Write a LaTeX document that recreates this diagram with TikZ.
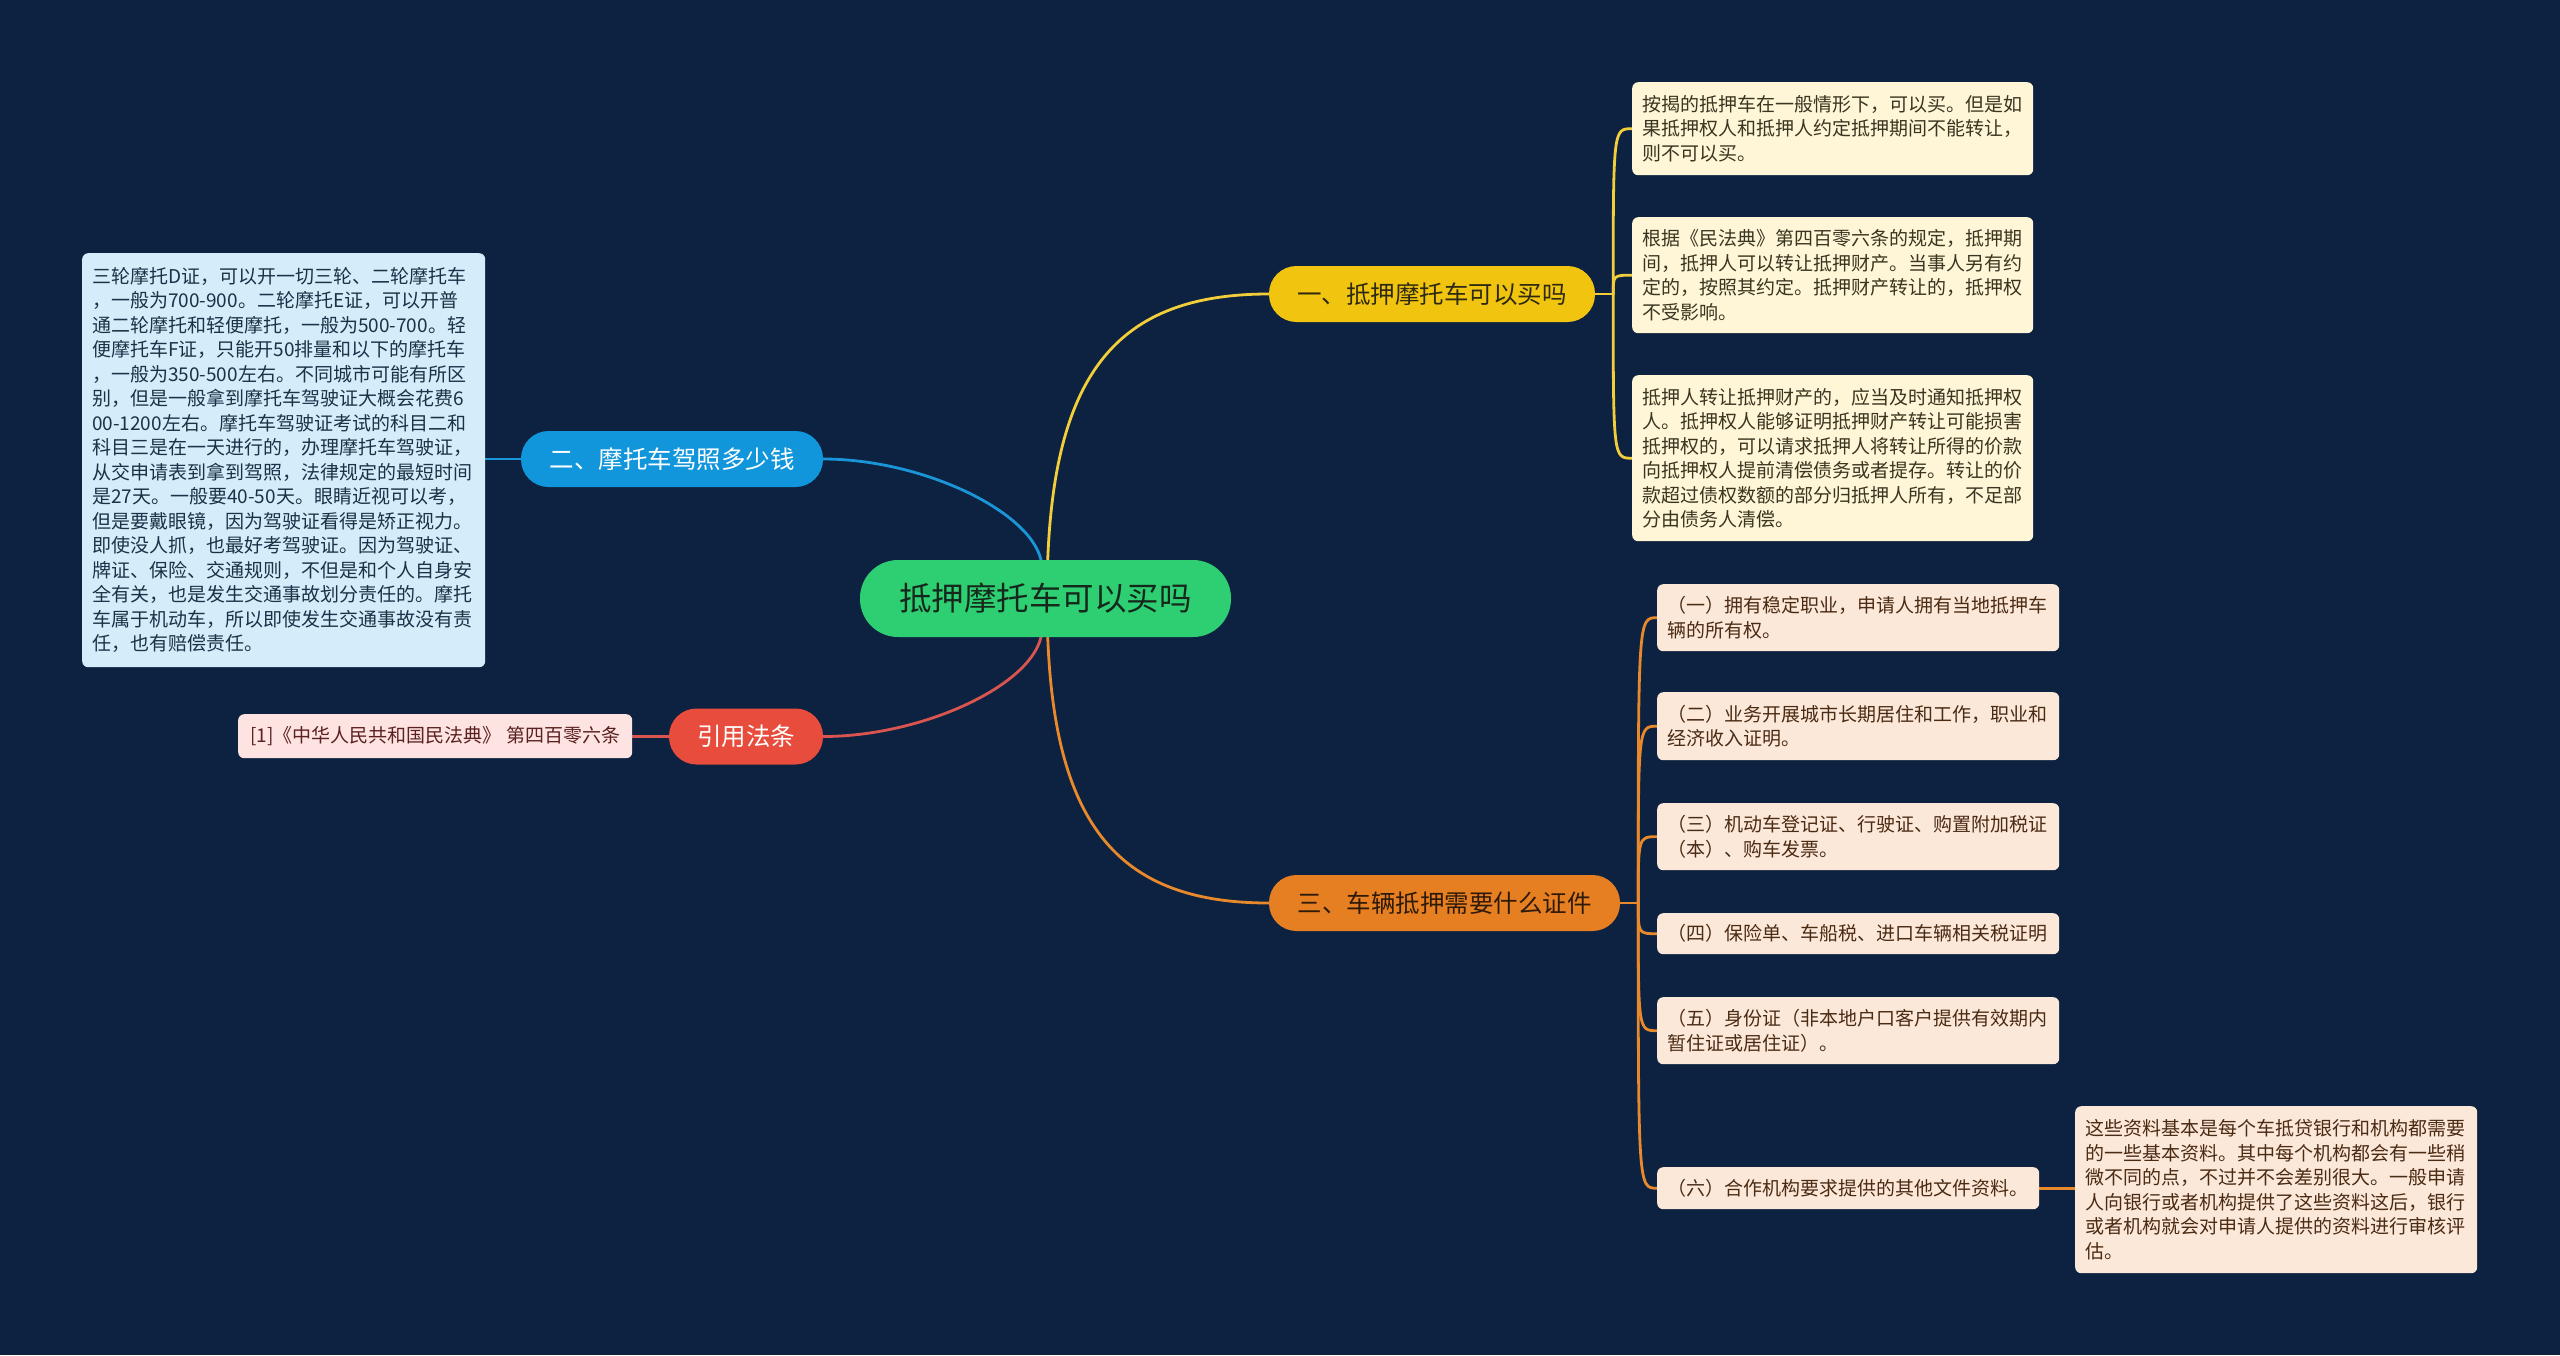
\documentclass[tikz,border=0pt]{standalone}
\usepackage{fontspec}
\setmainfont{Noto Sans CJK SC}
\usetikzlibrary{calc}
\pgfdeclarelayer{bg}
\pgfsetlayers{bg,main}
\definecolor{bgc}{HTML}{0D2240}
\definecolor{rootc}{HTML}{2ECF72}
\definecolor{roottxt}{HTML}{16281C}
\definecolor{yelc}{HTML}{F1C40F}
\definecolor{yeltxt}{HTML}{2E2A12}
\definecolor{yline}{HTML}{F2CE3A}
\definecolor{orac}{HTML}{E67E22}
\definecolor{oratxt}{HTML}{2E1A08}
\definecolor{oline}{HTML}{E8892C}
\definecolor{bluc}{HTML}{1296DB}
\definecolor{bline}{HTML}{1A95D8}
\definecolor{redc}{HTML}{E74C3C}
\definecolor{rline}{HTML}{DB5550}
\definecolor{leafY}{HTML}{FEF6D7}
\definecolor{leafYt}{HTML}{3A3521}
\definecolor{leafO}{HTML}{FCE8D8}
\definecolor{leafOt}{HTML}{4A2B14}
\definecolor{leafB}{HTML}{D5EDFA}
\definecolor{leafBt}{HTML}{1B3147}
\definecolor{leafR}{HTML}{FDE3E1}
\definecolor{leafRt}{HTML}{5B2020}
\begin{document}
\begin{tikzpicture}[x=1pt,y=-1pt]
\tikzset{
  pill/.style={rectangle, rounded corners=#1, inner sep=0pt, align=center},
  brfont/.style={font=\fontsize{24.5}{28}\selectfont},
  leaf/.style={rectangle, rounded corners=6pt, anchor=north west, inner xsep=10pt, inner ysep=0pt, align=left, font=\fontsize{19}{24.5}\selectfont},
  conn/.style={line width=2.8pt, line cap=round}
}
\useasboundingbox (0,0) rectangle (2560,1355);

% root and branches
\node[pill=38pt, fill=rootc, text=roottxt, minimum width=371pt, minimum height=77pt, font=\fontsize{32.5}{36}\selectfont] (root) at (1045.5,598.5) {抵押摩托车可以买吗};
\node[pill=27.5pt, brfont, fill=yelc, text=yeltxt, minimum width=326pt, minimum height=56pt] (b1) at (1432,294) {一、抵押摩托车可以买吗};
\node[pill=27.5pt, brfont, fill=orac, text=oratxt, minimum width=351pt, minimum height=56pt] (b3) at (1444.5,903) {三、车辆抵押需要什么证件};
\node[pill=27.5pt, brfont, fill=bluc, text=white, minimum width=302pt, minimum height=56pt] (b2) at (672,459) {二、摩托车驾照多少钱};
\node[pill=27.5pt, brfont, fill=redc, text=white, minimum width=154pt, minimum height=56pt] (b4) at (746,736.5) {引用法条};

% yellow leaves
\node[leaf, fill=leafY, text=leafYt, text width=381pt, minimum height=93pt] (y1) at (1632,82) {按揭的抵押车在一般情形下，可以买。但是如\\果抵押权人和抵押人约定抵押期间不能转让，\\则不可以买。};
\node[leaf, fill=leafY, text=leafYt, text width=381pt, minimum height=116pt] (y2) at (1632,217) {根据《民法典》第四百零六条的规定，抵押期\\间，抵押人可以转让抵押财产。当事人另有约\\定的，按照其约定。抵押财产转让的，抵押权\\不受影响。};
\node[leaf, fill=leafY, text=leafYt, text width=381pt, minimum height=166pt] (y3) at (1632,375) {抵押人转让抵押财产的，应当及时通知抵押权\\人。抵押权人能够证明抵押财产转让可能损害\\抵押权的，可以请求抵押人将转让所得的价款\\向抵押权人提前清偿债务或者提存。转让的价\\款超过债权数额的部分归抵押人所有，不足部\\分由债务人清偿。};

% orange leaves
\node[leaf, fill=leafO, text=leafOt, text width=382pt, minimum height=67pt] (o1) at (1657,584) {（一）拥有稳定职业，申请人拥有当地抵押车\\辆的所有权。};
\node[leaf, fill=leafO, text=leafOt, text width=382pt, minimum height=68pt] (o2) at (1657,692) {（二）业务开展城市长期居住和工作，职业和\\经济收入证明。};
\node[leaf, fill=leafO, text=leafOt, text width=382pt, minimum height=67pt] (o3) at (1657,803) {（三）机动车登记证、行驶证、购置附加税证\\（本）、购车发票。};
\node[leaf, fill=leafO, text=leafOt, text width=382pt, minimum height=41pt] (o4) at (1657,913) {（四）保险单、车船税、进口车辆相关税证明};
\node[leaf, fill=leafO, text=leafOt, text width=382pt, minimum height=67pt] (o5) at (1657,997) {（五）身份证（非本地户口客户提供有效期内\\暂住证或居住证）。};
\node[leaf, fill=leafO, text=leafOt, text width=362pt, minimum height=42pt] (o6) at (1657,1167) {（六）合作机构要求提供的其他文件资料。};
\node[leaf, fill=leafO, text=leafOt, text width=382pt, minimum height=167pt] (o7) at (2075,1106) {这些资料基本是每个车抵贷银行和机构都需要\\的一些基本资料。其中每个机构都会有一些稍\\微不同的点，不过并不会差别很大。一般申请\\人向银行或者机构提供了这些资料这后，银行\\或者机构就会对申请人提供的资料进行审核评\\估。};

% left leaves
\node[leaf, fill=leafB, text=leafBt, text width=383pt, minimum height=414pt] (l1) at (82,253) {三轮摩托D证，可以开一切三轮、二轮摩托车\\，一般为700-900。二轮摩托E证，可以开普\\通二轮摩托和轻便摩托，一般为500-700。轻\\便摩托车F证，只能开50排量和以下的摩托车\\，一般为350-500左右。不同城市可能有所区\\别，但是一般拿到摩托车驾驶证大概会花费6\\00-1200左右。摩托车驾驶证考试的科目二和\\科目三是在一天进行的，办理摩托车驾驶证，\\从交申请表到拿到驾照，法律规定的最短时间\\是27天。一般要40-50天。眼睛近视可以考，\\但是要戴眼镜，因为驾驶证看得是矫正视力。\\即使没人抓，也最好考驾驶证。因为驾驶证、\\牌证、保险、交通规则，不但是和个人自身安\\全有关，也是发生交通事故划分责任的。摩托\\车属于机动车，所以即使发生交通事故没有责\\任，也有赔偿责任。};
\node[leaf, fill=leafR, text=leafRt, minimum width=394pt, minimum height=44pt, align=center] (cite) at (238,714) {[1]《中华人民共和国民法典》 第四百零六条};

\coordinate (t1) at ([xshift=18pt]b1.east);
\coordinate (t3) at ([xshift=18pt]b3.east);

\begin{pgfonlayer}{bg}
\fill[bgc] (0,0) rectangle (2560,1355);
% root connectors
\draw[conn, draw=yline] ([xshift=1.5pt]root.center) .. controls +(0,-218) and +(-159,0) .. (b1.west);
\draw[conn, draw=oline] ([xshift=1.5pt]root.center) .. controls +(0,218) and +(-159,0) .. (b3.west);
\draw[conn, draw=bline] ([xshift=-3.5pt]root.center) -- ([xshift=-4.5pt]root.north) .. controls +(-12,-50) and +(97,0) .. (b2.east);
\draw[conn, draw=rline] ([xshift=-3.5pt]root.center) -- ([xshift=-4.5pt]root.south) .. controls +(-12,50) and +(97,0) .. (b4.east);
% yellow children
\draw[conn, draw=yline] (b1.east) -- (t1);
\foreach \c in {y1,y2,y3}
  \draw[conn, draw=yline] (t1) .. controls (t1 |- \c.west) .. (\c.west);
% orange children
\draw[conn, draw=oline] (b3.east) -- (t3);
\foreach \c in {o1,o2,o3,o4,o5,o6}
  \draw[conn, draw=oline] (t3) .. controls (t3 |- \c.west) .. (\c.west);
\draw[conn, draw=oline] (o6.east) -- (o7.west |- o6.east);
% left children
\draw[conn, draw=bline] (b2.west) -- (l1.east |- b2.west);
\draw[conn, draw=rline] (b4.west) -- (cite.east |- b4.west);
\end{pgfonlayer}
\end{tikzpicture}
\end{document}
